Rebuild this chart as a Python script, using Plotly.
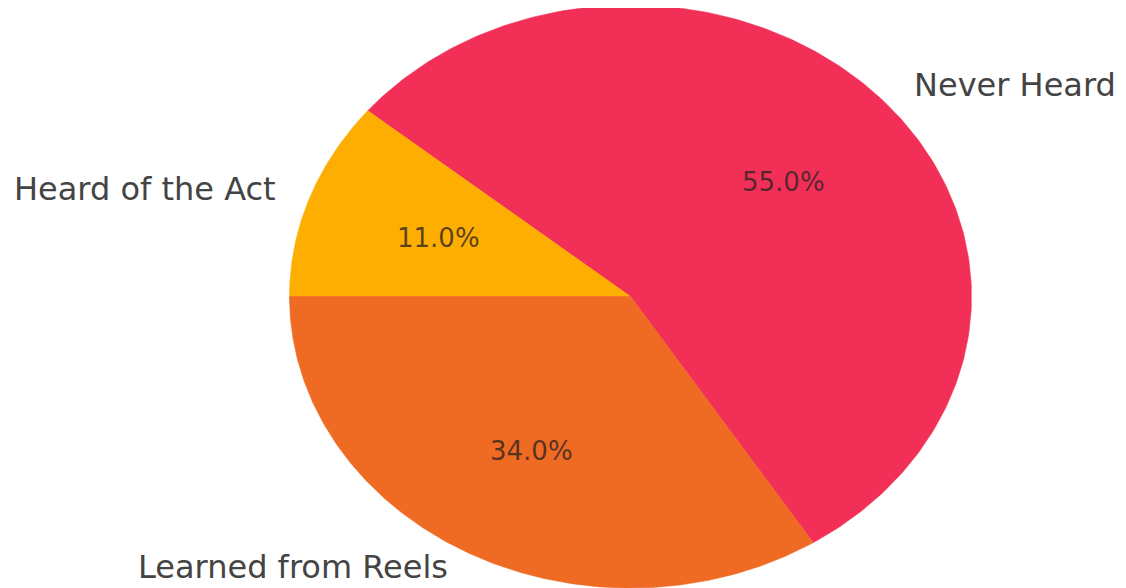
import numpy as np
import plotly.graph_objects as go

# ---- data ----
labels = ["Never Heard", "Heard of the Act", "Learned from Reels"]
values = [55.0, 11.0, 34.0]
colors = ["#F23057", "#FDAE00", "#EF6A22"]

# ---- layout parameters (pixels) ----
W, H = 1126, 588
PAGE_OFF = 8              # default body margin of the html page
CX, CY = 630.5, 296.5     # pie centre (screen pixels)
RX, RY = 341.0, 291.5     # stretched (elliptical) radii
START_ANGLE = -57.6       # degrees, counter-clockwise like matplotlib
LABEL_R = 1.1
PCT_R = 0.6
LABEL_MAX_Y = 566         # keep outer labels inside the page

fig = go.Figure()

total = float(sum(values))
theta0 = START_ANGLE
annotations = []
for lab, val, col in zip(labels, values, colors):
    span = 360.0 * val / total
    theta1 = theta0 + span
    t = np.radians(np.linspace(theta0, theta1, 240))
    xs = np.concatenate([[CX], CX + RX * np.cos(t), [CX]])
    ys = np.concatenate([[CY], CY - RY * np.sin(t), [CY]])
    fig.add_trace(go.Scatter(
        x=xs, y=ys, mode="lines", fill="toself",
        fillcolor=col, line=dict(color=col, width=0.6),
        name=lab, hoverinfo="text",
        text=f"{lab}: {val:.1f}%", showlegend=False,
    ))
    mid = np.radians((theta0 + theta1) / 2.0)
    c, s = np.cos(mid), np.sin(mid)
    ly = min(CY - LABEL_R * RY * s, LABEL_MAX_Y)
    annotations.append(dict(
        x=CX + LABEL_R * RX * c, y=ly,
        xref="x", yref="y", text=lab, showarrow=False,
        xanchor="left" if c > 0 else "right", yanchor="middle",
        yshift=-1,
        font=dict(family="DejaVu Sans", size=32, color="#444444"),
    ))
    annotations.append(dict(
        x=CX + PCT_R * RX * c, y=CY - PCT_R * RY * s,
        xref="x", yref="y", text=f"{100.0 * val / total:.1f}%",
        showarrow=False, xanchor="center", yanchor="middle",
        yshift=-1,
        font=dict(family="DejaVu Sans", size=26, color="rgba(45,35,35,0.78)"),
    ))
    theta0 = theta1

fig.update_layout(
    width=W, height=H,
    margin=dict(l=0, r=0, t=0, b=0),
    paper_bgcolor="white", plot_bgcolor="white",
    xaxis=dict(range=[PAGE_OFF, W + PAGE_OFF], visible=False, fixedrange=True),
    yaxis=dict(range=[H + PAGE_OFF, PAGE_OFF], visible=False, fixedrange=True),
    annotations=annotations,
    showlegend=False,
)

fig.write_html("out.html")
